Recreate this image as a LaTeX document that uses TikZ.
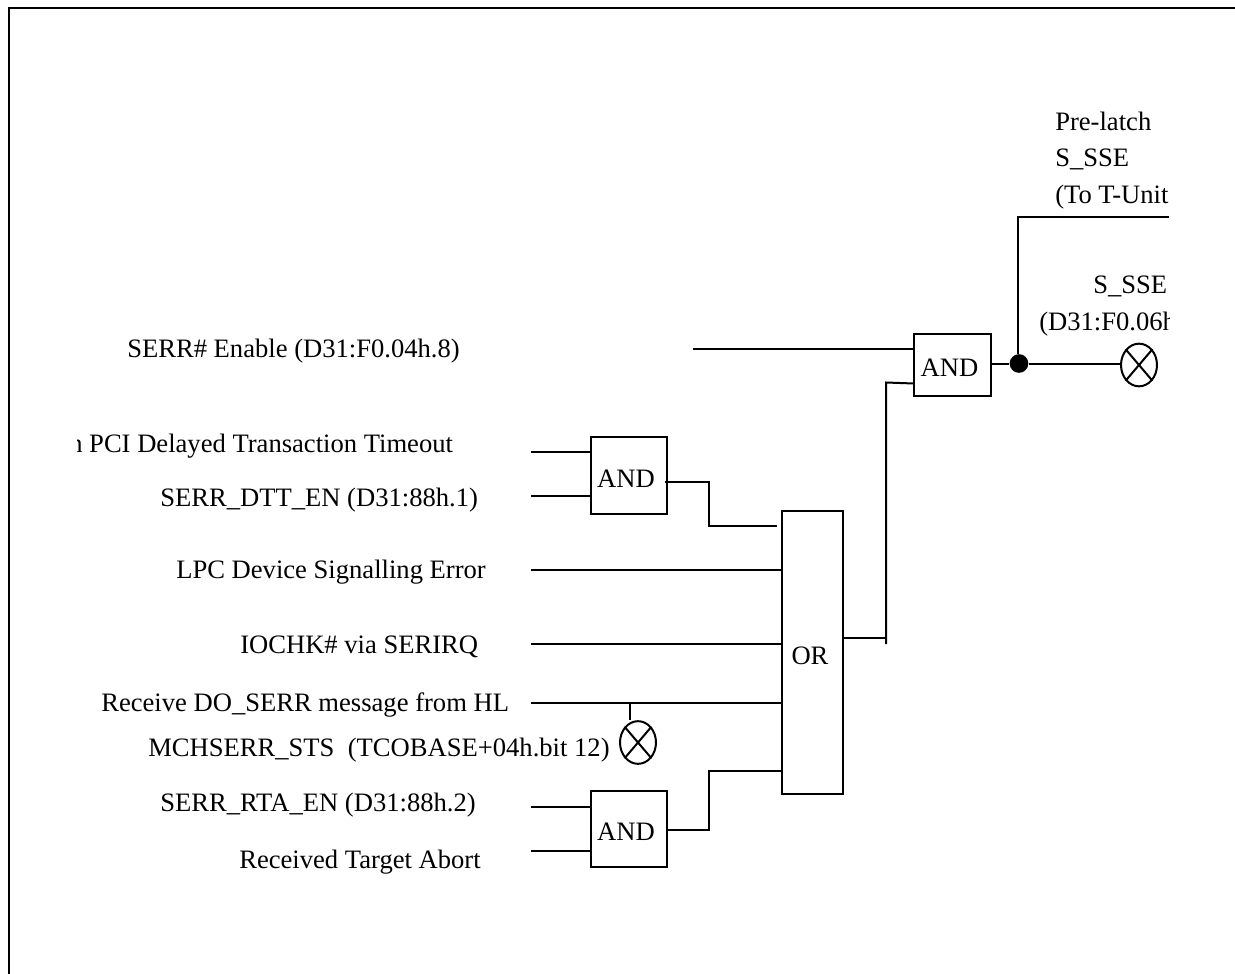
\documentclass[tikz,border=0pt]{standalone}
\usepackage{fontspec}
\setmainfont{Liberation Serif}
\usetikzlibrary{shapes.geometric}
\tikzset{
  x=0.75pt,y=-0.75pt,
  wire/.style={draw=black,line width=1.5pt,line join=miter},
  gate/.style={draw=black,line width=1.5pt,fill=white,inner sep=0pt,text height=17.7pt,text depth=0pt,font=\fontsize{19.95pt}{22pt}\selectfont},
  lbl/.style={inner sep=0pt,anchor=base west,font=\fontsize{19.95pt}{22pt}\selectfont},
  lamp/.style={draw=black,line width=1.5pt,fill=white,ellipse,inner sep=0pt,minimum width=27pt,minimum height=32pt},
  jdot/.style={circle,fill=black,inner sep=0pt,minimum size=14pt}
}
\begin{document}
\begin{tikzpicture}
\useasboundingbox (0,0) rectangle (1235,974);
\fill[white] (0,0) rectangle (1235,974);
\coordinate (fb) at (9,974);
\coordinate (ft) at (9,8);
\coordinate (fr) at (1235,8);
\draw[line width=1.5pt,line cap=butt] (fb) -- (ft) -- (fr);
% labels
\begin{scope}
\clip (77,90) rectangle (1169,900);
\node[lbl] (tprelatch) at (1055,130.7) {Pre-latch};
\node[lbl] (tsse) at (1055,166.7) {S\_SSE};
\node[lbl] (tunit) at (1055,203) {(To T-Unit};
\node[lbl] (tsse2) at (1093,293.7) {S\_SSE};
\node[lbl] (treg) at (1039,330.7) {(D31:F0.06h};
\node[lbl] (tenable) at (127,357.7) {SERR\# Enable (D31:F0.04h.8)};
\node[lbl] (tpci) at (69,452.7) {n PCI Delayed Transaction Timeout};
\node[lbl] (tdtt) at (160,506.7) {SERR\_DTT\_EN (D31:88h.1)};
\node[lbl] (tlpc) at (176,578.7) {LPC Device Signalling Error};
\node[lbl] (tio) at (240,653.7) {IOCHK\# via SERIRQ};
\node[lbl] (tdo) at (101,711.7) {Receive DO\_SERR message from HL};
\node[lbl] (tmch) at (148,756.7) {MCHSERR\_STS\ \ (TCOBASE+04h.bit 12)};
\node[lbl] (trta) at (160,811.7) {SERR\_RTA\_EN (D31:88h.2)};
\node[lbl] (trec) at (239,868.7) {Received Target Abort};
\end{scope}
% gates
\node[gate,minimum width=57.75pt,minimum height=46.5pt] (and1) at (952.5,365) {AND\kern 4.5pt};
\node[gate,minimum width=57pt,minimum height=57.75pt] (and2) at (629,475.5) {AND\kern 4.5pt};
\node[gate,minimum width=57pt,minimum height=57pt] (and3) at (629,829) {AND\kern 4.5pt};
\node[gate,text height=18.4pt,minimum width=45.75pt,minimum height=212.25pt] (orx) at (812.5,652.5) {OR\kern 3.75pt};
\node[lamp] (lamp1) at (1139,365) {};
\node[lamp] (lamp2) at (638,742.5) {};
\node[jdot] (j) at (1019,363.5) {};
% wire ends
\coordinate (e1) at (693,349);
\coordinate (e2) at (531,452);
\coordinate (e3) at (531,496);
\coordinate (e4) at (531,570);
\coordinate (e5) at (531,643.5);
\coordinate (e6) at (531,703);
\coordinate (e7) at (531,806.5);
\coordinate (e8) at (531,851);
\coordinate (t1) at (1169,217);
\coordinate (b1) at (630,703);
\coordinate (o2a) at (665,481.5);
\coordinate (o2b) at (709,481.5);
\coordinate (o2c) at (709,525.5);
\coordinate (o2d) at (777,525.5);
\coordinate (o3a) at (709,830);
\coordinate (o3b) at (709,771);
\coordinate (oa) at (886,638);
\coordinate (ob) at (886,644);
\coordinate (oc) at (886,382.5);
\coordinate (i1b) at (914,383.5);
\coordinate (j2) at (1018,217);
% wires
\draw[wire] (e1) -- (e1 -| and1.west);
\draw[wire] (orx.east |- oa) -- (oa);
\draw[wire] (ob) -- (oc) -- (i1b);
\draw[wire] (and1.east |- j) -- (j);
\draw[wire] (j) -- (j -| lamp1.west);
\draw[wire] (j.north -| j2) -- (j2) -- (t1);
\draw[wire] (e2) -- (e2 -| and2.west);
\draw[wire] (e3) -- (e3 -| and2.west);
\draw[wire] (o2a) -- (o2b) -- (o2c) -- (o2d);
\draw[wire] (e4) -- (e4 -| orx.west);
\draw[wire] (e5) -- (e5 -| orx.west);
\draw[wire] (e6) -- (e6 -| orx.west);
\draw[wire] (b1) -- (lamp2.north -| b1);
\draw[wire] (e7) -- (e7 -| and3.west);
\draw[wire] (e8) -- (e8 -| and3.west);
\draw[wire] (and3.east |- o3a) -- (o3a) -- (o3b) -- (o3b -| orx.west);
% lamp crosses
\draw[wire] (lamp1.north west) -- (lamp1.south east);
\draw[wire] (lamp1.south west) -- (lamp1.north east);
\draw[wire] (lamp2.north west) -- (lamp2.south east);
\draw[wire] (lamp2.south west) -- (lamp2.north east);
\end{tikzpicture}
\end{document}
